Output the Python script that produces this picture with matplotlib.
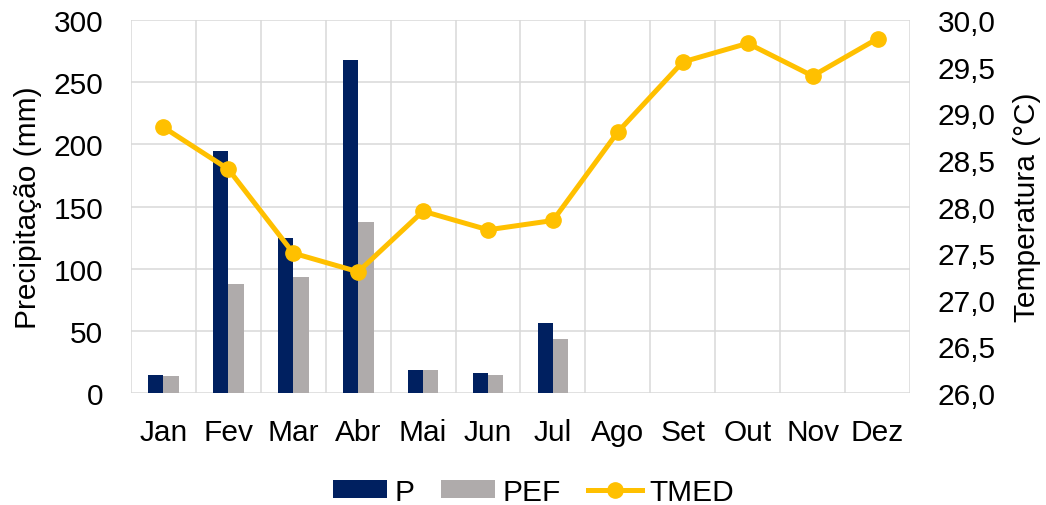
import matplotlib.pyplot as plt
import numpy as np
from matplotlib.ticker import FuncFormatter, MultipleLocator

plt.rcParams['font.family'] = ['Liberation Sans', 'DejaVu Sans']
plt.rcParams['font.size'] = 21.5

meses = ['Jan', 'Fev', 'Mar', 'Abr', 'Mai', 'Jun', 'Jul', 'Ago', 'Set', 'Out', 'Nov', 'Dez']
p = [14.2, 194.3, 124.5, 267.8, 18.8, 15.8, 56.0, 0, 0, 0, 0, 0]
pef = [13.7, 87.4, 93.1, 137.9, 18.2, 14.7, 43.5, 0, 0, 0, 0, 0]
tmed = [28.85, 28.40, 27.50, 27.30, 27.95, 27.75, 27.85, 28.80, 29.55, 29.75, 29.40, 29.80]

grid_c = '#D9D9D9'
x = np.arange(len(meses))
w = 0.237

fig, ax = plt.subplots(figsize=(10.46, 5.06), dpi=100)
fig.subplots_adjust(left=0.1252, right=0.870, top=0.9585, bottom=0.2213)

ax.bar(x - w / 2, p, w, color='#002060', label='P')
ax.bar(x + w / 2, pef, w, color='#AFABAB', label='PEF')
ax.set_xlim(-0.5, 11.5)
ax.set_ylim(0, 300)
ax.yaxis.set_major_locator(MultipleLocator(50))
ax.set_xticks(x)
ax.set_xticklabels(meses)
ax.set_xticks(np.arange(-0.5, 12, 1), minor=True)
ax.set_axisbelow(True)
ax.grid(axis='y', which='major', color=grid_c, linewidth=1.1)
ax.grid(axis='x', which='minor', color=grid_c, linewidth=1.1)
ax.tick_params(which='both', length=0)
ax.tick_params(axis='y', pad=20)
ax.tick_params(axis='x', pad=18)
ax.set_ylabel('Precipitação (mm)', labelpad=8)
for s in ax.spines.values():
    s.set_visible(False)

ax2 = ax.twinx()
ax2.plot(x, tmed, color='#FFC000', linewidth=3.6, marker='o', markersize=11, label='TMED')
ax2.set_ylim(26, 30)
ax2.yaxis.set_major_locator(MultipleLocator(0.5))
ax2.yaxis.set_major_formatter(FuncFormatter(lambda v, _: f'{v:.1f}'.replace('.', ',')))
ax2.tick_params(length=0, pad=20)
ax2.set_ylabel('Temperatura (°C)', labelpad=12)
for s in ax2.spines.values():
    s.set_visible(False)

h1, l1 = ax.get_legend_handles_labels()
h2, l2 = ax2.get_legend_handles_labels()
fig.legend(h1 + h2, l1 + l2, loc='lower center', bbox_to_anchor=(0.51, -0.055), ncol=3,
           frameon=False, handlelength=1.8, handleheight=0.55, handletextpad=0.25,
           columnspacing=0.9)

plt.savefig('out.png')
